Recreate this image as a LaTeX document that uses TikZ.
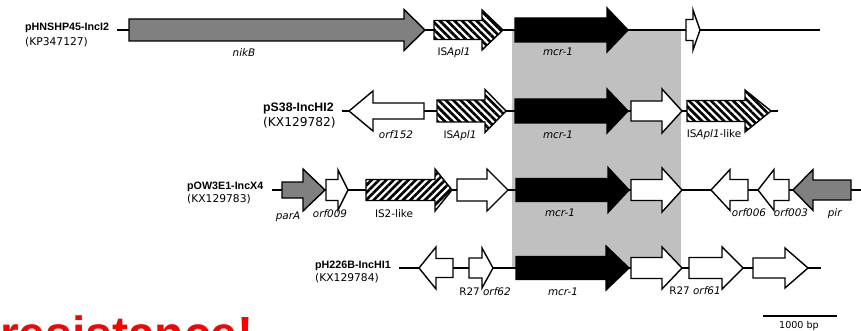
\documentclass[tikz,border=0pt]{standalone}
\usepackage{fontspec}
\setmainfont{DejaVu Sans}
\newfontfamily\arialfont{Liberation Sans}
\usetikzlibrary{patterns.meta}
\definecolor{regiongray}{HTML}{C0C0C0}
\definecolor{genegray}{HTML}{808080}
\tikzset{
  backbone/.style={line width=1.4pt},
  genebox/.style={draw=black, line width=1.4pt, line join=miter},
  whitegene/.style={fill=white},
  graygene/.style={fill=genegray},
  blackgene/.style={fill=black},
  hatchback/.style={preaction={fill=white}, pattern={Lines[angle=-45,distance=5.2pt,line width=2.7pt]}},
  hatchfwd/.style={preaction={fill=white}, pattern={Lines[angle=45,distance=5.2pt,line width=2.7pt]}},
  glabel/.style={font=\fontsize{10.4}{12}\selectfont, inner sep=0pt, text height=7.6pt, text depth=0pt},
  pname/.style={font=\fontsize{10.7}{12}\selectfont\arialfont\bfseries, anchor=west, inner sep=0pt, text height=7.7pt, text depth=0pt},
  pacc/.style={font=\fontsize{10.7}{12}\selectfont, anchor=west, inner sep=0pt, text height=7.8pt, text depth=0pt},
  pnamebig/.style={pname, font=\fontsize{12.3}{14}\selectfont\arialfont\bfseries, text height=8.9pt},
  paccbig/.style={pacc, font=\fontsize{12.2}{14}\selectfont, text height=8.9pt},
}
% #2 tail x, #3 head base x, #4 tip x, #5 centre y, #6 body half height, #7 head half height
\newcommand{\genearrow}[7][]{%
  \draw[genebox,#1] (#2,#5-#6) -- (#3,#5-#6) -- (#3,#5-#7) -- (#4,#5)
    -- (#3,#5+#7) -- (#3,#5+#6) -- (#2,#5+#6) -- cycle;}
\begin{document}
\begin{tikzpicture}[x=1pt,y=-1pt]
\useasboundingbox (0,0) rectangle (861,331);
\clip (0,0) rectangle (861,331);
\fill[white] (0,0) rectangle (861,331);
% conserved region
\fill[regiongray] (512,30) rectangle (681,268);

% ---------------- row 1
\draw[backbone] (117,30) coordinate (r1a) -- (820,30) coordinate (r1b);
\genearrow[graygene]{129}{404}{425}{30}{11}{20.5}
\genearrow[hatchback]{434}{482}{503}{30}{9.5}{20}
\genearrow[blackgene]{515}{607}{628}{30}{12}{22}
\genearrow[whitegene]{686}{693}{700}{30}{10.5}{20}
\node[pname] (n1) at (25,27) {pHNSHP45-IncI2};
\node[pacc] (a1) at (25,42) {(KP347127)};
\node[glabel] (l1a) at (244,53) {\textit{nikB}};
\node[glabel] (l1b) at (454,52) {IS\textit{Apl1}};
\node[glabel] (l1c) at (558,52) {\textit{mcr-1}};

% ---------------- row 2
\draw[backbone] (342,111) coordinate (r2a) -- (778,111) coordinate (r2b);
\genearrow[whitegene]{424}{373}{349}{111}{8}{20}
\genearrow[hatchback]{437}{485}{506}{111}{11}{21.5}
\genearrow[blackgene]{515}{607}{628}{111}{12}{22}
\genearrow[whitegene]{631}{662}{682}{111}{10}{22}
\genearrow[hatchback]{687}{745}{771}{111}{10.5}{21}
\node[pnamebig] (n2) at (263,107) {pS38-IncHI2};
\node[paccbig] (a2) at (263,122) {(KX129782)};
\node[glabel] (l2a) at (396,135) {\textit{orf152}};
\node[glabel] (l2b) at (460,135) {IS\textit{Apl1}};
\node[glabel] (l2c) at (558,135) {\textit{mcr-1}};
\node[glabel] (l2d) at (714,134) {IS\textit{Apl1}-like};

% ---------------- row 3
\draw[backbone] (272,190) coordinate (r3a) -- (861,190) coordinate (r3b);
\genearrow[graygene]{282}{303}{325}{190}{8}{21}
\genearrow[whitegene]{326}{338}{348}{190}{10.5}{20}
\genearrow[hatchfwd]{366}{435}{452}{190}{10.5}{21}
\genearrow[whitegene]{457}{487}{508}{190}{11}{21}
\genearrow[blackgene]{516}{608}{629}{190}{11.5}{22.5}
\genearrow[whitegene]{631}{662}{682}{190}{10.5}{22}
\genearrow[whitegene]{748}{730}{711}{190}{10.5}{20.5}
\genearrow[whitegene]{789}{774}{758}{190}{10.5}{20.5}
\genearrow[graygene]{851}{813}{793}{190}{10}{20.5}
\node[pname] (n3) at (187,186) {pOW3E1-IncX4};
\node[pacc] (a3) at (187,199) {(KX129783)};
\node[glabel] (l3a) at (288,216) {\textit{parA}};
\node[glabel] (l3b) at (330,214) {\textit{orf009}};
\node[glabel] (l3c) at (394,214) {IS2-like};
\node[glabel] (l3d) at (560,213) {\textit{mcr-1}};
\node[glabel] (l3e) at (749,213) {\textit{orf006}};
\node[glabel] (l3f) at (791,213) {\textit{orf003}};
\node[glabel] (l3g) at (835,213) {\textit{pir}};

% ---------------- row 4
\draw[backbone] (399,268) coordinate (r4a) -- (821,268) coordinate (r4b);
\genearrow[whitegene]{453}{436}{419}{268}{9.5}{21}
\genearrow[whitegene]{469}{482}{493}{268}{10}{20}
\genearrow[blackgene]{516}{606}{629}{268}{11.5}{22}
\genearrow[whitegene]{631}{662}{682}{268}{10.5}{21}
\genearrow[whitegene]{689}{722}{743}{268}{10.5}{21}
\genearrow[whitegene]{753}{785}{808}{268}{10}{20}
\node[pname] (n4) at (315,265) {pH226B-IncHI1};
\node[pacc] (a4) at (315,278) {(KX129784)};
\node[glabel] (l4a) at (485,292) {R27 \textit{orf62}};
\node[glabel] (l4b) at (563,292) {\textit{mcr-1}};
\node[glabel] (l4c) at (695,291) {R27 \textit{orf61}};

% ---------------- scale bar
\draw[backbone] (763,316) coordinate (sb1) -- (837,316) coordinate (sb2);
\node[glabel, font=\fontsize{9.6}{11}\selectfont] (sbl) at (799,325) {1000 bp};

% ---------------- red overlay text (cut by the page edge, as in the reference)
\node[anchor=base west, inner sep=0pt, text=red, font=\fontsize{48}{48}\selectfont\arialfont\bfseries] (res) at (0,350) {resistance!};
\end{tikzpicture}
\end{document}
